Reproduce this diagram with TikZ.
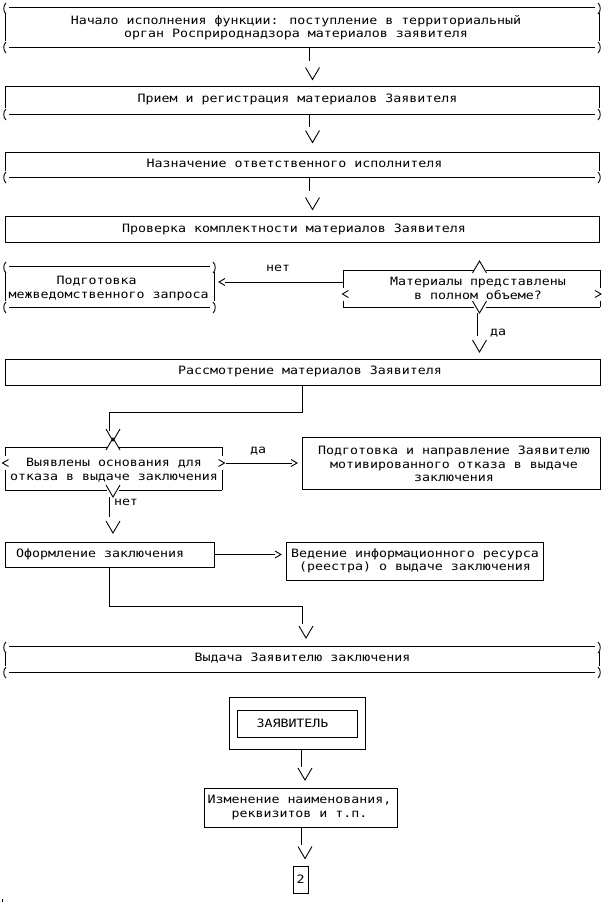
\documentclass[tikz,border=0pt]{standalone}
\usepackage{fontspec}
\newfontfamily\mono[FakeStretch=1.155]{DejaVu Sans Mono}
\usetikzlibrary{calc,fit}
\tikzset{
  ln/.style={line width=0.9pt},
  box/.style={inner sep=0pt, outer sep=0pt, draw=none},
  pbox/.style={box, draw, line width=0.9pt},
  txt/.style={font=\mono\fontsize{11.5}{13.3}\selectfont, inner sep=0pt, align=center},
  lbr/.pic={\draw[ln] (2.5,-5) .. controls (-0.5,-2.5) and (-0.5,3.5) .. (2.5,6);},
  rbr/.pic={\draw[ln] (-2.5,-5) .. controls (0.5,-2.5) and (0.5,3.5) .. (-2.5,6);},
  vdn/.pic={\draw[ln] (-7,-6) -- (0,6) -- (7,-6);},
  vup/.pic={\draw[ln] (-7,6) -- (0,-6) -- (7,6);},
  chl/.pic={\draw[ln] (3,-3.5) -- (-3,0) -- (3,3.5);},
  chr/.pic={\draw[ln] (-3,-3.5) -- (3,0) -- (-3,3.5);}
}
\newcommand\bxtop[1]{%
  \draw[ln] ($(#1.north west)+(4,0)$) -- ($(#1.north east)+(-4,0)$);
  \pic at ($(#1.north west)+(-1.5,1)$) {lbr};
  \pic at ($(#1.north east)+(1.5,1)$) {rbr};}
\newcommand\bxbot[1]{%
  \draw[ln] ($(#1.south west)+(4,0)$) -- ($(#1.south east)+(-4,0)$);
  \pic at ($(#1.south west)+(-1.5,0)$) {lbr};
  \pic at ($(#1.south east)+(1.5,0)$) {rbr};}
\newcommand\bxplaintop[1]{\draw[ln] (#1.north west) -- (#1.north east);}
\newcommand\bxsides[2]{%
  \draw[ln] ($(#1.north west)+(0,#2)$) -- ($(#1.south west)+(0,-6)$);
  \draw[ln] ($(#1.north east)+(0,#2)$) -- ($(#1.south east)+(0,-6)$);}
\begin{document}
\begin{tikzpicture}[x=1pt,y=-1pt]
\useasboundingbox (0,0) rectangle (613,902);
\fill[white] (0,0) rectangle (613,902);
% columns
\coordinate (cA) at (309,0);
\coordinate (cAv) at (312.5,0);
\coordinate (cB) at (477,0);
\coordinate (cBv) at (479.5,0);
\coordinate (cC) at (302.5,0);
\coordinate (cCv) at (306,0);
\coordinate (cD) at (109,0);
\coordinate (cDv) at (113,0);
\coordinate (cE) at (301,0);
\coordinate (cEv) at (305,0);
% boxes
\node[box, fit={(5,7)(599,47)}] (b1) {};
\bxtop{b1}\bxbot{b1}\bxsides{b1}{6}
\node[txt] (t1) at (296,27.5) {Начало исполнения функции: поступление в территориальный\\орган Росприроднадзора материалов заявителя};

\node[box, fit={(5,86)(599,114)}] (b2) {};
\bxplaintop{b2}\bxbot{b2}\bxsides{b2}{0}
\node[txt] (t2) at (297.5,99.5) {Прием и регистрация материалов Заявителя};

\node[box, fit={(5,152)(599,177)}] (b3) {};
\bxplaintop{b3}\bxbot{b3}\bxsides{b3}{0}
\node[txt] (t3) at (294.5,163.5) {Назначение ответственного исполнителя};

\node[pbox, fit={(5,216)(599,242)}] (b4) {};
\node[txt] (t4) at (294,229) {Проверка комплектности материалов Заявителя};

\node[box, fit={(5,266)(214,307)}] (pq) {};
\bxtop{pq}\bxbot{pq}\bxsides{pq}{6}
\node[txt, align=left, anchor=west] (tpq) at (8.5,288.5) {\hspace*{48pt}Подготовка\\межведомственного запроса};

% decision 1
\node[box, fit={(343,270)(600,307)}] (d1) {};
\coordinate (cy1) at (0,294);
\draw[ln] (d1.north west) -- ($(d1.north west -| cBv)+(-6,0)$);
\draw[ln] ($(d1.north east -| cBv)+(6,0)$) -- (d1.north east);
\draw[ln] (d1.south west) -- ($(d1.south west -| cBv)+(-6,0)$);
\draw[ln] ($(d1.south east -| cBv)+(6,0)$) -- (d1.south east);
\pic at ($(d1.north -| cBv)+(0,-3)$) {vup};
\pic at (d1.south -| cBv) {vdn};
\draw[ln] (d1.north west) -- ($(d1.west |- cy1)+(0,-6.5)$);
\draw[ln] ($(d1.west |- cy1)+(0,6.5)$) -- (d1.south west);
\draw[ln] (d1.north east) -- ($(d1.east |- cy1)+(0,-6.5)$);
\draw[ln] ($(d1.east |- cy1)+(0,6.5)$) -- (d1.south east);
\pic at ($(d1.west |- cy1)+(2.4,0)$) {chl};
\pic at ($(d1.east |- cy1)+(-2,0)$) {chr};
\node[txt] (td1) at (478,288.5) {Материалы представлены\\в полном объеме?};

\node[pbox, fit={(5,359)(600,385)}] (b5) {};
\node[txt] (t5) at (310,371.5) {Рассмотрение материалов Заявителя};

% decision 2
\node[box, fit={(5,447)(222,490)}] (d2) {};
\coordinate (cy2) at (0,463);
\draw[ln] (d2.north west) -- ($(d2.north west -| cDv)+(-6,0)$);
\draw[ln] ($(d2.north east -| cDv)+(6,0)$) -- (d2.north east);
\draw[ln] (d2.south west) -- ($(d2.south west -| cDv)+(-6,0)$);
\draw[ln] ($(d2.south east -| cDv)+(6,0)$) -- (d2.south east);
\pic at ($(d2.north -| cDv)+(0,-3)$) {vup};
\pic at ($(d2.south -| cDv)+(0,1)$) {vdn};
\draw[ln] (d2.north west) -- ($(d2.west |- cy2)+(0,-7)$);
\draw[ln] ($(d2.west |- cy2)+(0,7)$) -- (d2.south west);
\draw[ln] (d2.north east) -- ($(d2.east |- cy2)+(0,-7)$);
\draw[ln] ($(d2.east |- cy2)+(0,7)$) -- (d2.south east);
\pic at ($(d2.west |- cy2)+(0.5,0)$) {chl};
\pic at ($(d2.east |- cy2)+(-0.5,0)$) {chr};
\node[txt] (td2) at (114,470) {Выявлены основания для\\отказа в выдаче заключения};

\node[pbox, fit={(302,437)(600,489)}] (rf) {};
\node[txt] (trf) at (454,464) {Подготовка и направление Заявителю\\мотивированного отказа в выдаче\\заключения};

\node[pbox, fit={(5,542)(214,567)}] (of) {};
\node[txt, anchor=west] (tof) at (16,554.5) {Оформление заключения};

\node[pbox, fit={(286,542)(543,580)}] (vd) {};
\node[txt] (tvd) at (415,561) {Ведение информационного ресурса\\(реестра) о выдаче заключения};

\node[box, fit={(5,646)(599,672)}] (vy) {};
\bxtop{vy}\bxbot{vy}\bxsides{vy}{6}
\node[txt] (tvy) at (302.5,658.5) {Выдача Заявителю заключения};

\node[pbox, fit={(229,697)(365,749)}] (za) {};
\node[pbox, fit={(237,710)(357,737)}] (zi) {};
\node[txt] (tza) at (292.5,723) {ЗАЯВИТЕЛЬ};

\node[pbox, fit={(204,788)(397,827)}] (iz) {};
\node[txt] (tiz) at (299.5,807.5) {Изменение наименования,\\реквизитов и т.п.};

\node[pbox, fit={(293,866)(308,893)}] (two) {};
\node[txt] (ttwo) at (300.5,879.5) {2};

% connectors
\draw[ln] (b1.south -| cA) -- ++(0,14);
\pic at ($(b2.north -| cAv)+(0,-12.5)$) {vdn};
\draw[ln] (b2.south -| cA) -- ++(0,13);
\pic at ($(b3.north -| cAv)+(0,-15.5)$) {vdn};
\draw[ln] (b3.south -| cA) -- ++(0,14);
\pic at ($(b4.north -| cAv)+(0,-12.5)$) {vdn};

\coordinate (r1) at (0,282);
\draw[ln] (d1.west |- r1) -- ($(pq.east |- r1)+(11,0)$);
\pic at ($(pq.east |- r1)+(8,0)$) {chl};
\node[txt] (lab1) at (278,268) {нет};

\draw[ln] ($(d1.south -| cB)+(0,6)$) -- ++(0,23);
\pic at ($(b5.north -| cBv)+(0,-13)$) {vdn};
\node[txt] (lab2) at (498,333) {да};

\coordinate (k1) at (0,412);
\draw[ln] (b5.south -| cC) -- (cC |- k1) -- (cD |- k1) -- ($(d2.north -| cD)+(0,-16)$);
\pic at ($(d2.north -| cDv)+(0,-12)$) {vdn};

\draw[ln] ($(d2.east |- cy2)+(4,0)$) -- ($(rf.west |- cy2)+(-10,0)$);
\pic at ($(rf.west |- cy2)+(-8,0)$) {chr};
\node[txt] (lab3) at (258,451) {да};

\draw[ln] ($(d2.south -| cD)+(0,7)$) -- ++(0,20);
\pic at ($(of.north -| cDv)+(0,-15)$) {vdn};
\node[txt] (lab4) at (126,502.5) {нет};

\coordinate (r2) at (0,554.5);
\draw[ln] (of.east |- r2) -- ($(vd.west |- r2)+(-11,0)$);
\pic at ($(vd.west |- r2)+(-8,0)$) {chr};

\coordinate (k2) at (0,606);
\draw[ln] (of.south -| cD) -- (cD |- k2) -- (cC |- k2) -- ($(vy.north -| cC)+(0,-22)$);
\pic at ($(vy.north -| cCv)+(0,-14)$) {vdn};

\draw[ln] (za.south -| cE) -- ++(0,18);
\pic at ($(iz.north -| cEv)+(0,-14)$) {vdn};
\draw[ln] (iz.south -| cE) -- ++(0,18);
\pic at ($(two.north -| cEv)+(0,-13.5)$) {vdn};

\draw[ln] (2,899) -- (2,902);
\end{tikzpicture}
\end{document}
